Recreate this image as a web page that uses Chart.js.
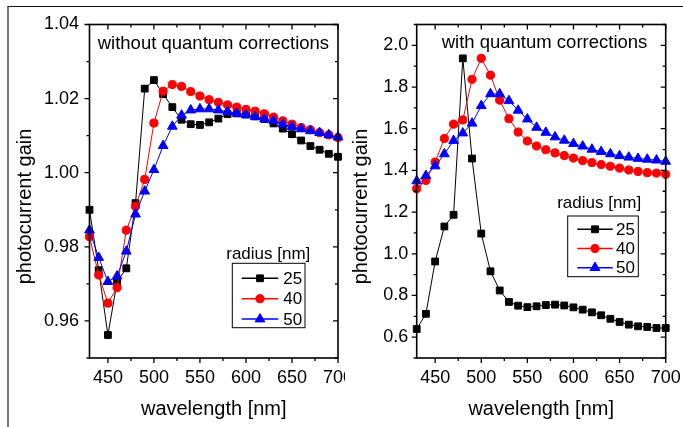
<!DOCTYPE html>
<html>
<head>
<meta charset="utf-8">
<script src="https://cdn.jsdelivr.net/npm/chart.js@4/dist/chart.umd.min.js"></script>
<style>
html, body { margin:0; padding:0; background:#fff; }
#wrap { position:relative; width:683px; height:427px; overflow:hidden; }
#c1 { position:absolute; left:0; top:0; }
#c2 { position:absolute; left:345px; top:0; }
#frame { position:absolute; left:7px; top:6px; width:700px; height:500px; border-top:1px solid #111; border-left:2px solid #777; pointer-events:none; }
</style>
</head>
<body>
<div id="wrap">
	<canvas id="c1" width="345" height="427"></canvas>
	<canvas id="c2" width="338" height="427"></canvas>
	<div id="frame"></div>
</div>
<script>
// data
var wavelength = [430, 440, 450, 460, 470, 480, 490, 500, 510, 520, 530, 540, 550, 560,
	570, 580, 590, 600, 610, 620, 630, 640, 650, 660, 670, 680, 690, 700];
var radius = ["25", "40", "50"];

// without quantum corrections
var noQ25 = [0.9900, 0.9737, 0.9562, 0.9706, 0.9742, 0.9918, 1.0227, 1.0250, 1.0212, 1.0177,
	1.0143, 1.0131, 1.0129, 1.0136, 1.0146, 1.0158, 1.0160, 1.0157, 1.0152, 1.0145,
	1.0133, 1.0119, 1.0104, 1.0087, 1.0072, 1.0062, 1.0051, 1.0043];
var noQ40 = [0.9827, 0.9724, 0.9648, 0.9690, 0.9845, 0.9909, 0.9982, 1.0134, 1.0220, 1.0238,
	1.0233, 1.0219, 1.0207, 1.0197, 1.0190, 1.0183, 1.0177, 1.0171, 1.0166, 1.0159,
	1.0150, 1.0140, 1.0131, 1.0122, 1.0116, 1.0108, 1.0102, 1.0095];
var noQ50 = [0.9845, 0.9771, 0.9706, 0.9721, 0.9788, 0.9888, 0.9950, 1.0008, 1.0073, 1.0125,
	1.0155, 1.0169, 1.0172, 1.0172, 1.0169, 1.0165, 1.0160, 1.0156, 1.0151, 1.0145,
	1.0140, 1.0131, 1.0124, 1.0118, 1.0113, 1.0108, 1.0102, 1.0096];

// with quantum corrections
var q25 = [0.639, 0.712, 0.963, 1.131, 1.187, 1.9375, 1.457, 1.097, 0.916, 0.824,
	0.769, 0.751, 0.744, 0.748, 0.754, 0.756, 0.752, 0.743, 0.732, 0.719,
	0.705, 0.688, 0.673, 0.660, 0.652, 0.649, 0.644, 0.644];
var q40 = [1.312, 1.352, 1.440, 1.553, 1.622, 1.642, 1.837, 1.9375, 1.857, 1.737,
	1.648, 1.584, 1.541, 1.517, 1.499, 1.484, 1.471, 1.459, 1.447, 1.4375,
	1.428, 1.420, 1.411, 1.402, 1.395, 1.389, 1.387, 1.381];
var q50 = [1.349, 1.375, 1.421, 1.479, 1.543, 1.579, 1.626, 1.710, 1.767, 1.767,
	1.734, 1.688, 1.646, 1.606, 1.582, 1.560, 1.544, 1.528, 1.516, 1.501,
	1.490, 1.479, 1.470, 1.463, 1.457, 1.453, 1.449, 1.443];

// ticks
var xTicks = [450, 500, 550, 600, 650, 700];
var yTicksNoQ = [0.96, 0.98, 1.00, 1.02, 1.04];
var yTicksQ = [0.6, 0.8, 1.0, 1.2, 1.4, 1.6, 1.8, 2.0];

var FONT = '"Liberation Sans", Arial, Helvetica, sans-serif';
Chart.defaults.font.family = FONT;
Chart.defaults.color = "#000";

var styles = [
	{ color: "#000000", point: "rect", r: 4.8, order: 3 },
	{ color: "#ff0000", point: "circle", r: 4.1, order: 2 },
	{ color: "#0000ff", point: "triangle", r: 5.6, order: 1 }
];

function pts(ys) {
	return wavelength.map(function(w, i) { return { x: w, y: ys[i] }; });
}

function makeSets(series) {
	return series.map(function(ys, i) {
		var s = styles[i];
		return {
			label: radius[i],
			data: pts(ys),
			showLine: true,
			borderColor: s.color,
			backgroundColor: s.color,
			borderWidth: 1,
			pointStyle: s.point,
			pointRadius: s.r,
			pointBorderWidth: 1,
			pointBackgroundColor: s.color,
			pointBorderColor: s.color,
			tension: 0,
			order: s.order,
			clip: false
		};
	});
}

// axis box, ticks, texts, legend
var deco = {
	id: "deco",
	afterDraw: function(chart, args, o) {
		var ctx = chart.ctx, a = chart.chartArea;
		var xs = chart.scales.x, ys = chart.scales.y;
		var L0 = a.left, R0 = a.right, T0 = a.top, B0 = a.bottom;
		ctx.save();
		ctx.strokeStyle = "#000000";
		ctx.lineWidth = 1.6;
		ctx.strokeRect(L0, T0, R0 - L0, B0 - T0);

		ctx.lineWidth = 1.3;
		function minors(t, step, lo, hi) {
			var m = [];
			for (var i = -1; i < t.length; i++) {
				var v = (i < 0 ? t[0] - step : t[i]) + step / 2;
				if (v >= lo - 1e-9 && v <= hi + 1e-9) m.push(v);
			}
			return m;
		}
		function xt(vals, len) {
			vals.forEach(function(v) {
				var p = xs.getPixelForValue(v);
				ctx.beginPath();
				ctx.moveTo(p, B0); ctx.lineTo(p, B0 + len);
				ctx.moveTo(p, T0); ctx.lineTo(p, T0 + len);
				ctx.stroke();
			});
		}
		function yt(vals, len) {
			vals.forEach(function(v) {
				var p = ys.getPixelForValue(v);
				ctx.beginPath();
				ctx.moveTo(L0, p); ctx.lineTo(L0 - len, p);
				ctx.moveTo(R0, p); ctx.lineTo(R0 - len, p);
				ctx.stroke();
			});
		}
		xt(xTicks, 5);
		xt(minors(xTicks, 50, xs.min, xs.max), 3);
		yt(o.yTicks, 5);
		yt(minors(o.yTicks, o.yStep, ys.min, ys.max), 3);

		ctx.fillStyle = "#000";
		// y title
		ctx.save();
		ctx.translate(o.yTitleX, 206.5);
		ctx.rotate(-Math.PI / 2);
		ctx.font = "20px " + FONT;
		ctx.textAlign = "center";
		ctx.textBaseline = "middle";
		ctx.fillText("photocurrent gain", 0, 0);
		ctx.restore();

		// note
		ctx.font = "18.5px " + FONT;
		ctx.textAlign = "center";
		ctx.textBaseline = "alphabetic";
		ctx.fillText(o.note, o.noteX, o.noteY);

		// legend
		var L = o.legend;
		ctx.font = "17px " + FONT;
		ctx.fillText("radius [nm]", L.titleX, L.titleY);
		ctx.lineWidth = 1;
		ctx.strokeStyle = "#000";
		ctx.strokeRect(L.x, L.y, L.w, L.h);
		chart.data.datasets.forEach(function(ds, i) {
			var ry = L.row0 + i * L.rowGap;
			ctx.strokeStyle = ds.borderColor;
			ctx.lineWidth = 1.5;
			ctx.beginPath();
			ctx.moveTo(L.lineX1, ry); ctx.lineTo(L.lineX2, ry);
			ctx.stroke();
			ctx.fillStyle = ds.backgroundColor;
			ctx.lineWidth = 1;
			Chart.helpers.drawPoint(ctx, { pointStyle: ds.pointStyle, radius: ds.pointRadius, rotation: 0, borderWidth: 1 },
				(L.lineX1 + L.lineX2) / 2, ry);
			ctx.fillStyle = "#000";
			ctx.textAlign = "left";
			ctx.textBaseline = "middle";
			ctx.fillText(ds.label, L.textX, ry + 1);
		});
		ctx.restore();
	}
};

function makeChart(el, series, opt) {
	return new Chart(document.getElementById(el), {
		type: "scatter",
		data: { datasets: makeSets(series) },
		options: {
			responsive: false,
			animation: false,
			devicePixelRatio: 1,
			layout: { padding: { left: 0, right: opt.padRight, top: 24.5, bottom: 0 } },
			plugins: {
				legend: { display: false },
				tooltip: { enabled: false },
				deco: opt
			},
			scales: {
				x: {
					type: "linear",
					min: 430, max: 700,
					grid: { display: false, drawTicks: false },
					border: { display: false },
					ticks: { font: { size: 18 }, padding: 9, color: "#000", maxRotation: 0 },
					afterBuildTicks: function(s) { s.ticks = xTicks.map(function(v) { return { value: v }; }); },
					afterFit: function(s) { s.height = 69; s.paddingLeft = 0; s.paddingRight = 0; },
					title: { display: true, text: "wavelength [nm]", font: { size: 20 }, padding: { top: 0, bottom: 6 }, color: "#000" }
				},
				y: {
					type: "linear",
					min: opt.yMin, max: opt.yMax,
					grid: { display: false, drawTicks: false },
					border: { display: false },
					ticks: {
						font: { size: 18 }, padding: opt.yPad, color: "#000",
						callback: function(v) { return v.toFixed(opt.dec); }
					},
					afterBuildTicks: function(s) { s.ticks = opt.yTicks.map(function(v) { return { value: v }; }); },
					afterFit: function(s) { s.width = opt.plotLeft; s.paddingTop = 0; s.paddingBottom = 0; }
				}
			}
		},
		plugins: [deco]
	});
}

var chart1 = makeChart("c1", [noQ25, noQ40, noQ50], {
	plotLeft: 89.5, padRight: 7, yMin: 0.95, yMax: 1.04, yTicks: yTicksNoQ, yStep: 0.02, dec: 2, yPad: 10.5,
	yTitleX: 25, note: "without quantum corrections", noteX: 213.4, noteY: 48.5,
	legend: { titleX: 268.3, titleY: 259, x: 232.3, y: 263.3, w: 72.7, h: 64.4,
		row0: 278.3, rowGap: 20.4, lineX1: 241.7, lineX2: 278.3, textX: 283.3 }
});

var chart2 = makeChart("c2", [q25, q40, q50], {
	plotLeft: 71.7, padRight: 17.3, yMin: 0.5, yMax: 2.1, yTicks: yTicksQ, yStep: 0.2, dec: 1, yPad: 8.5,
	yTitleX: 16, note: "with quantum corrections", noteX: 199.5, noteY: 48,
	legend: { titleX: 254.2, titleY: 208, x: 222.7, y: 216, w: 70.6, h: 60.7,
		row0: 229.3, rowGap: 19.2, lineX1: 232.3, lineX2: 267.7, textX: 271 }
});
</script>
</body>
</html>
